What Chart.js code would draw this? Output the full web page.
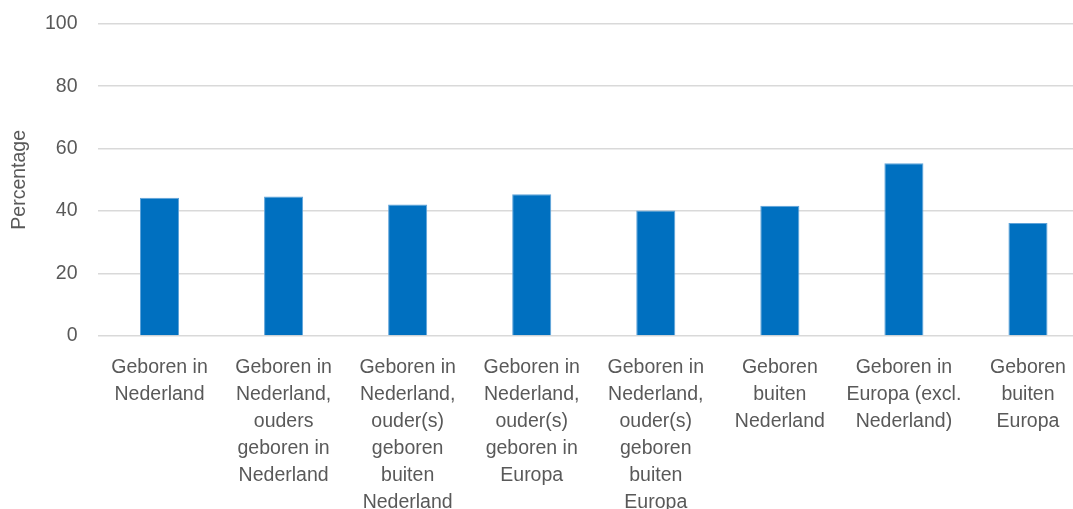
<!DOCTYPE html>
<html>
<head>
<meta charset="utf-8">
<script src="https://cdn.jsdelivr.net/npm/chart.js@4/dist/chart.umd.min.js"></script>
<style>
  html, body { margin: 0; padding: 0; background: #fff; overflow: hidden; }
  #wrap { position: relative; top: -8.5px; width: 1090px; height: 530px; }
</style>
</head>
<body>
<div id="wrap"><canvas id="chart"></canvas></div>
<script>
// categorieën (x-as), meerregelig zoals in het origineel
const categories = [
    ['Geboren in', 'Nederland'],
    ['Geboren in', 'Nederland,', 'ouders', 'geboren in', 'Nederland'],
    ['Geboren in', 'Nederland,', 'ouder(s)', 'geboren', 'buiten', 'Nederland'],
    ['Geboren in', 'Nederland,', 'ouder(s)', 'geboren in', 'Europa'],
    ['Geboren in', 'Nederland,', 'ouder(s)', 'geboren', 'buiten', 'Europa'],
    ['Geboren', 'buiten', 'Nederland'],
    ['Geboren in', 'Europa (excl.', 'Nederland)'],
    ['Geboren', 'buiten', 'Europa']
];

// percentages per groep
const percentages = [44.3, 44.7, 42.1, 45.4, 40.2, 41.7, 55.3, 36.2];

// y-as
const yMin = 0;
const yMax = 100;
const yStep = 20;
const yTitle = 'Percentage';

const textColor = '#595959';
const fontFamily = '"Liberation Sans", Arial, sans-serif';

new Chart(document.getElementById('chart'), {
    type: 'bar',
    data: {
        labels: categories,
        datasets: [{
            label: yTitle,
            data: percentages,
            backgroundColor: '#0070C0',
            borderColor: '#5FA3D9',
            borderWidth: 1,
            categoryPercentage: 1,
            barPercentage: 0.315
        }]
    },
    options: {
        responsive: true,
        maintainAspectRatio: false,
        animation: false,
        layout: { padding: { top: 4, left: 0, right: 0, bottom: 0 } },
        plugins: {
            legend: { display: false },
            tooltip: { enabled: false }
        },
        scales: {
            x: {
                grid: { display: false, drawTicks: false },
                border: { display: false },
                ticks: {
                    color: textColor,
                    font: { family: fontFamily, size: 19.5, lineHeight: 1.385 },
                    maxRotation: 0,
                    autoSkip: false,
                    padding: 18
                },
                afterFit: (scale) => { scale.height = 186; }
            },
            y: {
                min: yMin,
                max: yMax,
                ticks: {
                    stepSize: yStep,
                    color: textColor,
                    font: { family: fontFamily, size: 19.5 },
                    padding: 20
                },
                grid: { color: '#D9D9D9', lineWidth: 1.5, drawTicks: false },
                border: { display: false },
                title: {
                    display: true,
                    text: yTitle,
                    color: textColor,
                    font: { family: fontFamily, size: 19.5 },
                    padding: { top: 8, bottom: 0 }
                },
                afterFit: (scale) => { scale.width = 97.5; }
            }
        }
    }
});
</script>
</body>
</html>
